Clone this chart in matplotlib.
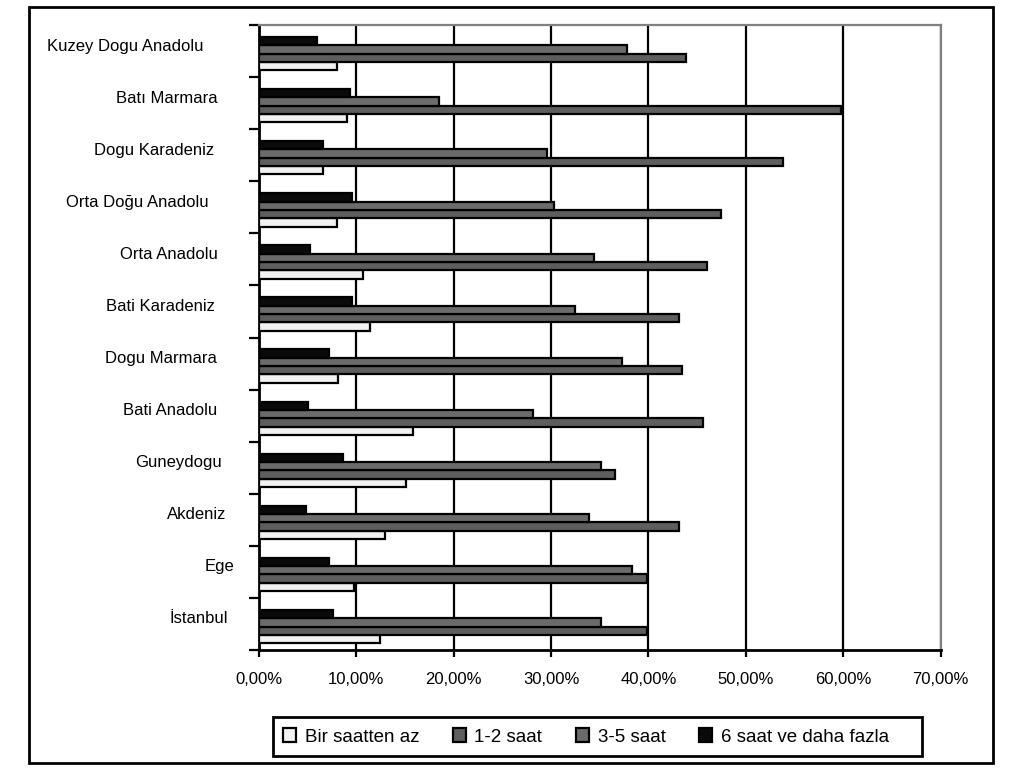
import matplotlib
matplotlib.use("Agg")
import matplotlib.pyplot as plt
import matplotlib.ticker as mtick
import matplotlib.transforms as mtrans
import numpy as np

plt.rcParams["font.family"] = ["Liberation Sans", "DejaVu Sans"]

# bölgeler (yukarıdan aşağıya)
bolgeler = ["Kuzey Dogu Anadolu", "Batı Marmara", "Dogu Karadeniz", "Orta Doğu Anadolu",
            "Orta Anadolu", "Bati Karadeniz", "Dogu Marmara", "Bati Anadolu",
            "Guneydogu", "Akdeniz", "Ege", "İstanbul"]

# yüzdeler
bir_saatten_az = [8.0, 9.0, 6.6, 8.0, 10.7, 11.4, 8.1, 15.8, 15.1, 12.9, 9.8, 12.4]
saat_1_2 = [43.9, 59.8, 53.8, 47.5, 46.0, 43.1, 43.4, 45.6, 36.6, 43.1, 39.9, 39.9]
saat_3_5 = [37.8, 18.5, 29.6, 30.3, 34.4, 32.5, 37.3, 28.1, 35.1, 33.9, 38.3, 35.1]
saat_6_fazla = [5.95, 9.3, 6.6, 9.6, 5.2, 9.6, 7.2, 5.0, 8.6, 4.8, 7.2, 7.6]

seri_adlari = ["Bir saatten az", "1-2 saat", "3-5 saat", "6 saat ve daha fazla"]

# etiketlerin yatay merkezleri (piksel), Excel'deki gibi düzensiz
etiket_x = [125, 167, 154, 137, 169, 160, 161, 170, 179, 197, 220, 199]

W, H = 1024, 779
fig = plt.figure(figsize=(W / 100, H / 100), dpi=100)
ax = fig.add_axes([259 / W, 1 - 650 / H, (940.5 - 259) / W, (650 - 25) / H])

y = np.arange(len(bolgeler)) + 0.05
h = 0.16
ax.barh(y + 1.5 * h, bir_saatten_az, height=h, color="#f2f2f2", edgecolor="black", linewidth=1.6, label=seri_adlari[0], zorder=3)
ax.barh(y + 0.5 * h, saat_1_2, height=h, color="#5e5e5e", edgecolor="black", linewidth=1.6, label=seri_adlari[1], zorder=3)
ax.barh(y - 0.5 * h, saat_3_5, height=h, color="#6b6b6b", edgecolor="black", linewidth=1.6, label=seri_adlari[2], zorder=3)
ax.barh(y - 1.5 * h, saat_6_fazla, height=h, color="#0a0a0a", edgecolor="black", linewidth=1.6, label=seri_adlari[3], zorder=3)

ax.set_xlim(0, 70)
ax.set_ylim(len(bolgeler) - 0.5, -0.5)
ax.xaxis.set_major_locator(mtick.MultipleLocator(10))
ax.xaxis.set_major_formatter(mtick.FuncFormatter(lambda v, p: f"{v:.2f}%".replace(".", ",")))
ax.grid(axis="x", color="black", linewidth=1.6, zorder=0)
ax.set_axisbelow(True)

# y işaretleri kategori sınırlarında
ax.set_yticks(np.arange(len(bolgeler) + 1) - 0.5)
ax.set_yticklabels([])
ax.tick_params(axis="y", direction="out", length=7, width=1.6, color="black")
ax.tick_params(axis="x", direction="out", length=5, width=1.6, color="black", labelsize=12, pad=11)

for s in ["left", "bottom"]:
    ax.spines[s].set_linewidth(2)
    ax.spines[s].set_color("black")
for s in ["top", "right"]:
    ax.spines[s].set_linewidth(1.6)
    ax.spines[s].set_color("#808080")

# bölge adları
ofs = mtrans.ScaledTranslation(0, 5 / 100, fig.dpi_scale_trans)
for i, (ad, cx) in enumerate(zip(bolgeler, etiket_x)):
    tr = mtrans.blended_transform_factory(fig.transFigure, ax.transData) + ofs
    ax.text(cx / W, i, ad, transform=tr, ha="center", va="center", fontsize=12, clip_on=False)

# dış çerçeve
fig.patches.append(plt.Rectangle((29 / W, 1 - 763 / H), (993 - 29) / W, (763 - 7) / H,
                                 transform=fig.transFigure, fill=False, edgecolor="black", linewidth=2))
# lejant kutusu
fig.patches.append(plt.Rectangle((273 / W, 1 - 756 / H), (922 - 273) / W, (756 - 717) / H,
                                 transform=fig.transFigure, fill=False, edgecolor="black", linewidth=2))

handles, labels = ax.get_legend_handles_labels()
fig.legend(handles, labels, loc="center left", bbox_to_anchor=(283 / W, 1 - 737 / H), ncol=4,
           frameon=False, fontsize=13.5, handlelength=0.7, handleheight=0.7, handletextpad=0.45,
           columnspacing=1.8, borderpad=0, borderaxespad=0)

fig.savefig("out.png", dpi=100)
